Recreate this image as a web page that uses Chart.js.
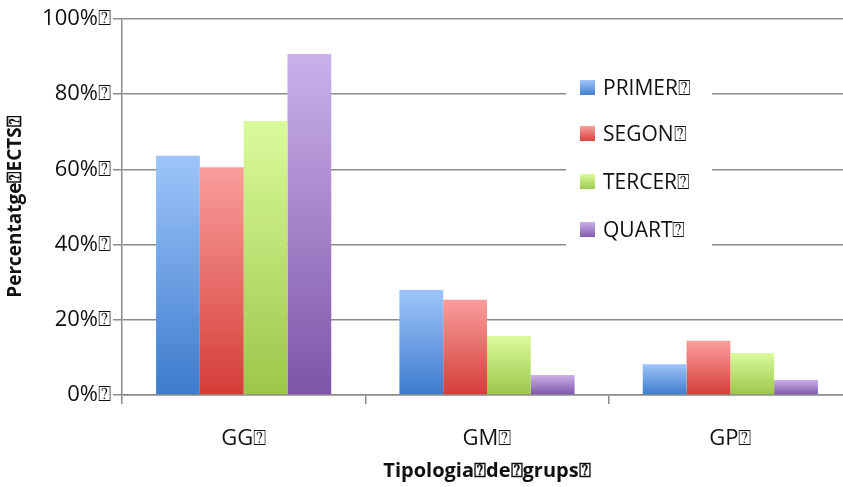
<!DOCTYPE html>
<html>
<head>
<meta charset="utf-8">
<script src="https://cdn.jsdelivr.net/npm/chart.js@4/dist/chart.umd.min.js"></script>
<style>
  html, body { margin: 0; padding: 0; background: #fff; overflow: hidden; }
  /* plot area runs a little past the right edge of the window, as in the picture */
  #wrap { width: 852px; height: 487px; }
</style>
</head>
<body>
<div id="wrap"><canvas id="chart"></canvas></div>
<script>
// Data
var categories = ["GG\u2370", "GM\u2370", "GP\u2370"];
var seriesNames = ["PRIMER\u2370", "SEGON\u2370", "TERCER\u2370", "QUART\u2370"];
var primer = [63.6, 27.9, 8.2];
var segon  = [60.6, 25.3, 14.4];
var tercer = [72.9, 15.7, 11.2];
var quart  = [90.7, 5.3, 4.0];
var yTicks = [0, 20, 40, 60, 80, 100];

// top / bottom gradient colours per series
var topColors    = ["#9ec5fa", "#fa9e9c", "#dafb9c", "#cbb1ea"];
var bottomColors = ["#3d7bcd", "#d43d38", "#9cc64a", "#7d55a8"];
var legendColors = ["#5b94e0", "#e35d59", "#b6dc72", "#9673c4"];

var FONT = "'Open Sans', 'DejaVu Sans', sans-serif";
var GRID = "#8c8c8c";

function barGradient(i) {
  return function (ctx) {
    var chart = ctx.chart;
    if (!chart.chartArea || ctx.type !== "data") return legendColors[i];
    var y = chart.scales.y;
    var top = y.getPixelForValue(ctx.raw);
    var bottom = y.getPixelForValue(0);
    if (!isFinite(top) || top === bottom) return legendColors[i];
    var g = chart.ctx.createLinearGradient(0, top, 0, bottom);
    g.addColorStop(0, topColors[i]);
    g.addColorStop(1, bottomColors[i]);
    return g;
  };
}

var allValues = [primer, segon, tercer, quart];
var datasets = [];
for (var i = 0; i < seriesNames.length; i++) {
  datasets.push({
    label: seriesNames[i],
    data: allValues[i],
    backgroundColor: barGradient(i),
    borderWidth: 0,
    categoryPercentage: 0.72,
    barPercentage: 1.0
  });
}

// Legend drawn inside the plot area, over the grid lines
var insideLegend = {
  id: "insideLegend",
  afterDatasetsDraw: function (chart) {
    var c = chart.ctx;
    c.save();
    c.fillStyle = "#fff";
    c.fillRect(566, 62, 146, 190);
    c.font = "21px " + FONT;
    c.textBaseline = "middle";
    var rowsY = [88, 134, 182, 230];
    chart.data.datasets.forEach(function (ds, k) {
      var g = c.createLinearGradient(0, rowsY[k] - 8, 0, rowsY[k] + 8);
      g.addColorStop(0, topColors[k]);
      g.addColorStop(1, bottomColors[k]);
      c.fillStyle = g;
      c.fillRect(580, rowsY[k] - 8, 15, 15);
      c.fillStyle = "#111";
      c.fillText(ds.label, 603, rowsY[k] + 1);
    });
    c.restore();
  }
};

new Chart(document.getElementById("chart"), {
  type: "bar",
  data: { labels: categories, datasets: datasets },
  plugins: [insideLegend],
  options: {
    responsive: true,
    maintainAspectRatio: false,
    animation: false,
    layout: { padding: { top: 19, right: 0, left: 0, bottom: 0 } },
    plugins: {
      legend: { display: false },
      tooltip: { enabled: false }
    },
    scales: {
      x: {
        offset: true,
        afterFit: function (s) { s.height = 92; },
        grid: {
          drawOnChartArea: false,
          drawTicks: true,
          tickLength: 9,
          color: GRID,
          lineWidth: 1.5
        },
        border: { color: GRID, width: 1.5 },
        ticks: {
          color: "#111",
          font: { family: FONT, size: 22 },
          padding: 22
        },
        title: {
          display: true,
          text: "Tipologia\u2370de\u2370grups\u2370",
          color: "#111",
          font: { family: FONT, size: 20, weight: "bold" },
          padding: { top: 4 }
        }
      },
      y: {
        min: 0,
        max: 100,
        afterFit: function (s) { s.width = 122; },
        afterBuildTicks: function (s) {
          s.ticks = yTicks.map(function (v) { return { value: v }; });
        },
        grid: {
          color: GRID,
          lineWidth: 1.5,
          drawTicks: true,
          tickLength: 9
        },
        border: { color: GRID, width: 1.5 },
        ticks: {
          color: "#111",
          font: { family: FONT, size: 22 },
          padding: 2,
          callback: function (v) { return v + "%\u2370"; }
        },
        title: {
          display: true,
          text: "Percentatge\u2370ECTS\u2370",
          color: "#111",
          font: { family: FONT, size: 19, weight: "bold" },
          padding: { bottom: 0 }
        }
      }
    }
  }
});
</script>
</body>
</html>
